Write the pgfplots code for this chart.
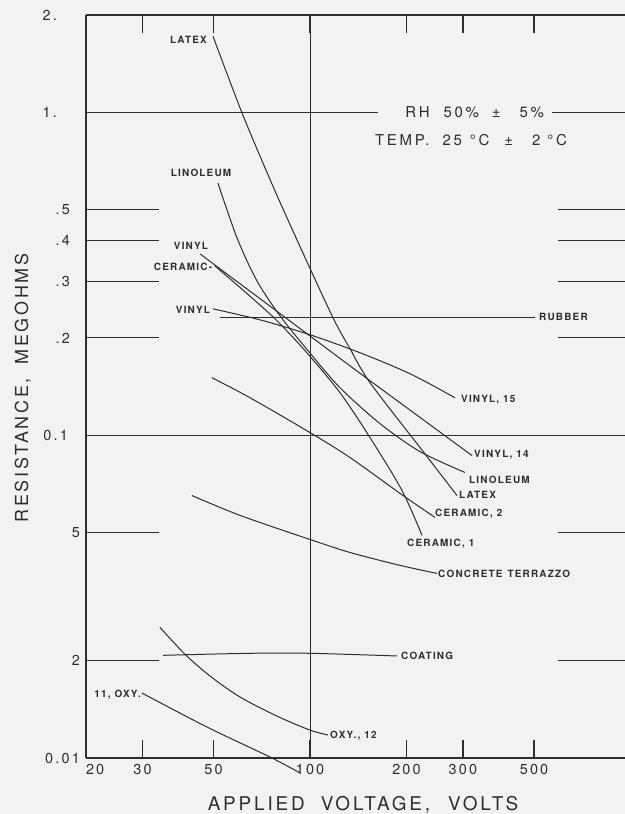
\documentclass[border=0pt]{standalone}
\usepackage{fontspec}
\setmainfont{TeX Gyre Heros}
\newfontfamily\labfont[LetterSpace=15]{TeX Gyre Heros}
\newfontfamily\condfont[LetterSpace=18]{TeX Gyre Heros}
\newfontfamily\tickfont[LetterSpace=15]{TeX Gyre Heros}
\newfontfamily\curvefont[LetterSpace=12]{TeX Gyre Heros}
\usepackage{pgfplots}
\pgfplotsset{compat=1.18}
\usetikzlibrary{backgrounds}
\definecolor{bgc}{RGB}{242,242,242}
\definecolor{ink}{RGB}{45,45,45}
\tikzset{
  lab/.style={font=\curvefont\bfseries\fontsize{10}{12}\selectfont, inner sep=0pt, text=ink},
  curve/.style={ink, line width=1bp, smooth, tension=0.5},
  gridl/.style={ink, line width=0.9bp},
}
\begin{document}
\begin{tikzpicture}
\begin{axis}[
  xmode=log, ymode=log,
  scale only axis, width=539bp, height=743bp,
  xmin=20, xmax=961, ymin=0.01, ymax=2,
  axis line style={draw=none},
  clip=false,
  xminorticks=false, yminorticks=false,
  tick align=inside,
  major tick length=18bp,
  xtick={20,30,50,100,200,300,500},
  xticklabels={\makebox[0pt][l]{20},30,50,100,200,300,500},
  xtick style={line width=1.2bp, color=ink},
  xticklabel style={anchor=north, inner sep=0pt, yshift=-6bp, font=\tickfont\fontsize{14.5}{16}\selectfont, text=ink},
  ytick={0.01,0.02,0.05,0.1,0.2,0.3,0.4,0.5,1,2},
  yticklabels={0.01,2,5,{0.1\kern12bp},{.2\kern10bp},{.3\kern10bp},{.4\kern10bp},{.5\kern10bp},{1.\kern23bp},{2.\kern23bp}},
  ytick style={draw=none},
  ytick pos=left,
  yticklabel style={anchor=east, inner sep=0pt, xshift=-6bp, font=\tickfont\fontsize{14.5}{16}\selectfont, text=ink},
]
% grid and frame
\draw[gridl] (axis cs:100,0.01) -- (axis cs:100,2);
\draw[gridl] (axis cs:20,0.1) -- (axis cs:961,0.1);
\draw[gridl] (axis cs:20,1) -- (axis cs:163,1);
\draw[gridl] (axis cs:569,1) -- (axis cs:961,1);
\draw[gridl] (axis cs:20,0.5) -- (axis cs:33.8,0.5);
\draw[gridl] (axis cs:20,0.4) -- (axis cs:33.8,0.4);
\draw[gridl] (axis cs:20,0.3) -- (axis cs:33.8,0.3);
\draw[gridl] (axis cs:20,0.2) -- (axis cs:33.8,0.2);
\draw[gridl] (axis cs:20,0.05) -- (axis cs:33.8,0.05);
\draw[gridl] (axis cs:20,0.02) -- (axis cs:33.8,0.02);
\draw[gridl] (axis cs:594,0.5) -- (axis cs:961,0.5);
\draw[gridl] (axis cs:594,0.4) -- (axis cs:961,0.4);
\draw[gridl] (axis cs:594,0.3) -- (axis cs:961,0.3);
\draw[gridl] (axis cs:594,0.2) -- (axis cs:961,0.2);
\draw[gridl] (axis cs:594,0.05) -- (axis cs:961,0.05);
\draw[gridl] (axis cs:594,0.02) -- (axis cs:961,0.02);
\draw[ink, line width=2bp] (axis cs:20,0.01) -- (axis cs:20,2);
\draw[ink, line width=2bp] (axis cs:20,0.01) -- (axis cs:961,0.01);
\draw[ink, line width=1.3bp] (axis cs:20,2) -- (axis cs:961,2);

% LATEX
\addplot[curve] coordinates {(49.8,1.718) (61.4,0.993) (76.1,0.599) (94.4,0.3718) (118.0,0.2307) (133.3,0.185) (153.9,0.1453) (220.4,0.0915) (287.5,0.065)};
% LINOLEUM
\addplot[curve] coordinates {(51.6,0.6034) (59.2,0.4077) (68.3,0.3003) (80.6,0.2341) (98.6,0.1825) (124.0,0.1402) (165.4,0.1085) (220.4,0.0889) (304.5,0.0766)};
% VINYL 14
\addplot[curve] coordinates {(45.4,0.3639) (95.1,0.2104) (153.9,0.1474) (320.3,0.0864)};
% VINYL 15
\addplot[curve] coordinates {(49.8,0.246) (69.8,0.2275) (100,0.2045) (143.2,0.1799) (205.1,0.1549) (283.4,0.1305)};
% CERAMIC 1
\addplot[curve] coordinates {(50.5,0.3342) (62.7,0.2777) (77.8,0.2291) (96.5,0.1825) (124.0,0.1353) (153.9,0.0982) (193.6,0.0674) (223.6,0.0489)};
% CERAMIC 2
\addplot[curve] coordinates {(49.4,0.1506) (65.0,0.1305) (100,0.1018) (133.3,0.0852) (195.1,0.065) (245.5,0.0556)};
% CONCRETE TERRAZZO
\addplot[curve] coordinates {(42.8,0.065) (60.5,0.0564) (100,0.0475) (133.3,0.0433) (190.9,0.0395) (249.1,0.0373)};
% RUBBER
\addplot[curve] coordinates {(52.4,0.2307) (503.5,0.2307)};
% COATING
\addplot[curve] coordinates {(34.8,0.0208) (65.0,0.0211) (100,0.0211) (186.8,0.0207)};
% OXY 12
\addplot[curve] coordinates {(34.0,0.0254) (40.7,0.02097) (48.8,0.01793) (60.5,0.01544) (78.9,0.01348) (100,0.0122) (113.8,0.01178)};
% 11 OXY
\addplot[curve] coordinates {(29.9,0.01589) (47.7,0.01247) (75.0,0.01007) (93.1,0.00899)};

% curve labels
\node[lab, anchor=base east] at (axis description cs:0.2245,0.9623) {LATEX};
\node[lab, anchor=base] at (axis description cs:0.2134,0.782) {LINOLEUM};
\node[lab, anchor=base] at (axis description cs:0.1948,0.685) {VINYL};
\node[lab, anchor=base] at (axis description cs:0.18,0.6568) {CERAMIC-};
\node[lab, anchor=base] at (axis description cs:0.1985,0.5989) {VINYL};
\node[lab, anchor=base west] at (axis description cs:0.8404,0.5895) {RUBBER};
\node[lab, anchor=base west] at (axis description cs:0.6957,0.4791) {VINYL, 15};
\node[lab, anchor=base west] at (axis description cs:0.7199,0.4051) {VINYL, 14};
\node[lab, anchor=base west] at (axis description cs:0.7106,0.3701) {LINOLEUM};
\node[lab, anchor=base west] at (axis description cs:0.692,0.3486) {LATEX};
\node[lab, anchor=base west] at (axis description cs:0.6475,0.3257) {CERAMIC, 2};
\node[lab, anchor=base west] at (axis description cs:0.5955,0.284) {CERAMIC, 1};
\node[lab, anchor=base west] at (axis description cs:0.6531,0.2436) {CONCRETE\hspace{5bp}TERRAZZO};
\node[lab, anchor=base west] at (axis description cs:0.5844,0.1332) {COATING};
\node[lab, anchor=base west] at (axis description cs:0.4527,0.0256) {OXY., 12};
\node[lab, anchor=base east] at (axis description cs:0.102,0.0821) {11, OXY.};

% conditions
\node[inner sep=0pt, anchor=base, text=ink, font=\condfont\fontsize{15}{17}\selectfont] at (axis description cs:0.721,0.8627) {RH\hspace{14bp}50\%\hspace{13bp}±\hspace{19bp}5\%};
\node[inner sep=0pt, anchor=base, text=ink, font=\condfont\fontsize{15}{17}\selectfont] at (axis description cs:0.7143,0.8237) {TEMP.\hspace{13bp}25\hspace{8bp}°C\hspace{15bp}±\hspace{19bp}2\hspace{7bp}°C};

% axis titles
\node[inner sep=0pt, anchor=base, text=ink, font=\labfont\fontsize{19}{21}\selectfont] at (axis description cs:0.514,-0.07) {APPLIED\hspace{16bp}VOLTAGE,\hspace{18bp}VOLTS};
\node[inner sep=0pt, anchor=base, rotate=90, text=ink, font=\labfont\fontsize{18}{20}\selectfont] at (axis description cs:-0.1076,0.498) {RESISTANCE,\hspace{14bp}MEGOHMS};
\end{axis}
\pgfresetboundingbox
\begin{scope}[on background layer]
\fill[bgc] (-86bp,-56bp) rectangle (539bp,758bp);
\end{scope}
\path[use as bounding box] (-86bp,-56bp) rectangle (539bp,758bp);
\end{tikzpicture}
\end{document}
